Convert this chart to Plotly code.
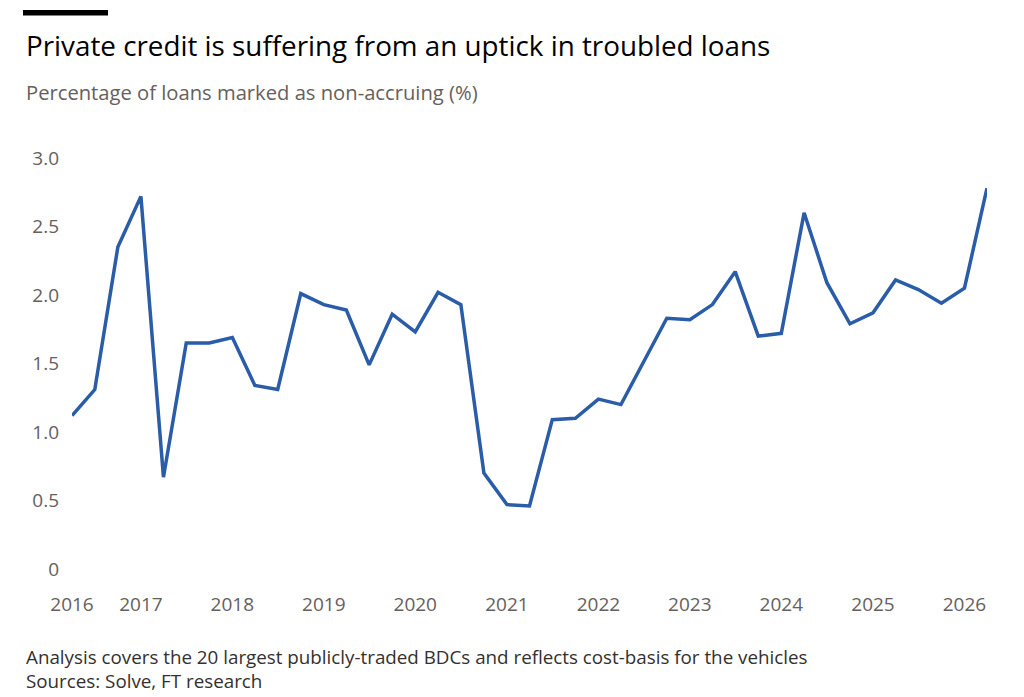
import pandas as pd
import plotly.graph_objects as go

# quarterly observations, Q2 2016 to Q2 2026
quarters = pd.date_range("2016-04-01", "2026-04-01", freq="QS").strftime("%Y-%m-%d").tolist()
non_accrual = [
    1.12, 1.31, 2.35, 2.72, 0.67, 1.65, 1.65, 1.69, 1.34, 1.31,
    2.01, 1.93, 1.89, 1.49, 1.86, 1.73, 2.02, 1.93, 0.70, 0.47,
    0.46, 1.09, 1.10, 1.24, 1.20, 1.52, 1.83, 1.82, 1.93, 2.17,
    1.70, 1.72, 2.60, 2.09, 1.79, 1.87, 2.11, 2.04, 1.94, 2.05,
    2.78,
]

tick_dates = ["2016-04-01", "2017-01-01", "2018-01-01", "2019-01-01", "2020-01-01",
              "2021-01-01", "2022-01-01", "2023-01-01", "2024-01-01", "2025-01-01",
              "2026-01-01"]
tick_labels = ["2016", "2017", "2018", "2019", "2020", "2021", "2022", "2023",
               "2024", "2025", "2026"]
y_ticks = [0, 0.5, 1.0, 1.5, 2.0, 2.5, 3.0]
y_labels = ["0", "0.5", "1.0", "1.5", "2.0", "2.5", "3.0"]

grey = "#66605c"
font = "Open Sans"

# page body adds an 8px offset, so layout is measured 8px up/left of the photo
W, H = 1024, 697
L, R, T, B = 64, 45, 150, 136

fig = go.Figure()
fig.add_trace(go.Scatter(
    x=quarters, y=non_accrual, mode="lines",
    line=dict(color="#2a5ca8", width=3.5),
    hoverinfo="x+y",
))

fig.update_layout(
    width=W, height=H,
    margin=dict(l=L, r=R, t=T, b=B),
    paper_bgcolor="white", plot_bgcolor="white",
    showlegend=False,
    font=dict(family=font, color=grey, size=19),
    xaxis=dict(
        type="date", range=[quarters[0], quarters[-1]],
        tickvals=tick_dates, ticktext=tick_labels,
        showgrid=False, zeroline=False, showline=False,
        ticks="", ticklabelstandoff=22,
        tickfont=dict(size=19, color=grey),
    ),
    yaxis=dict(
        range=[0, 3.0], tickvals=y_ticks, ticktext=y_labels,
        showgrid=False, zeroline=False, showline=False,
        ticks="", ticklabelstandoff=12,
        tickfont=dict(size=19, color=grey),
    ),
)


def py(px_from_top):
    return (H - B - px_from_top) / (H - B - T)


def px(px_from_left):
    return (px_from_left - L) / (W - L - R)


# short black rule above the title
fig.add_shape(type="rect", xref="paper", yref="paper",
              x0=px(15), x1=px(100), y0=py(7.5), y1=py(2),
              line=dict(width=0), fillcolor="black")

texts = [
    ("Private credit is suffering from an uptick in troubled loans", 37, 27.8, "#000000"),
    ("Percentage of loans marked as non-accruing (%)", 84, 20.2, grey),
    ("Analysis covers the 20 largest publicly-traded BDCs and reflects cost-basis for the vehicles", 649, 18.8, "#33302e"),
    ("Sources: Solve, FT research", 673, 18.8, "#33302e"),
]
for text, y, size, color in texts:
    fig.add_annotation(text=text, xref="paper", yref="paper", x=px(16), y=py(y),
                       xanchor="left", yanchor="middle", showarrow=False,
                       font=dict(family=font, size=size, color=color))

fig.write_html("out.html")
